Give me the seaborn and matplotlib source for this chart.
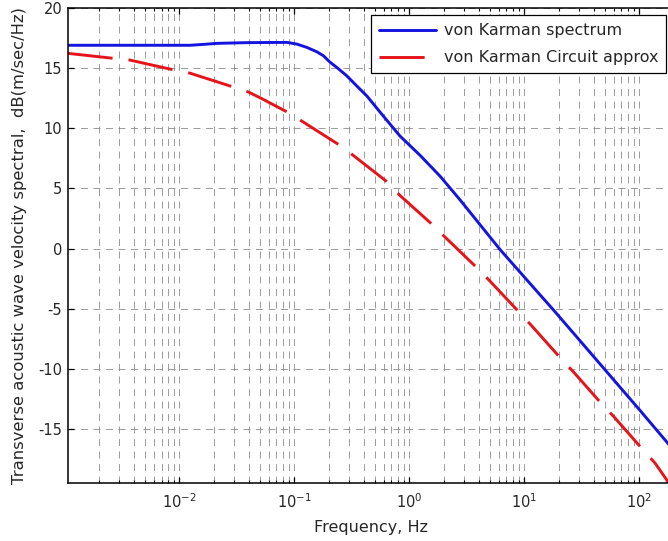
import matplotlib
matplotlib.use("Agg")
import numpy as np
import pandas as pd
import seaborn as sns
import matplotlib.pyplot as plt
from matplotlib.ticker import LogLocator, NullFormatter, LogFormatterSciNotation

# von Karman spectrum (Hz, dB)
spectrum_freq = [1.07e-3, 0.0124, 0.0165, 0.0213, 0.0389, 0.0865, 0.105, 0.128, 0.157,
                 0.179, 0.204, 0.234, 0.286, 0.349, 0.427, 0.556, 0.830, 1.24, 1.85,
                 2.76, 6.17, 13.7, 17.9, 52.1, 101, 173, 190]
spectrum_db = [16.9, 16.9, 16.98, 17.06, 17.12, 17.14, 17.0, 16.73, 16.36,
               16.03, 15.5, 15.06, 14.36, 13.52, 12.69, 11.35, 9.35, 7.75, 6.02,
               4.05, -0.1, -3.85, -5.1, -10.25, -13.44, -16.08, -16.55]

# circuit approximation (Hz, dB)
approx_freq = [1.07e-3, 2.58e-3, 3.72e-3, 8.87e-3, 0.0124, 0.0286, 0.0398, 0.0537, 0.0615,
               0.0887, 0.116, 0.249, 0.326, 0.656, 0.83, 1.62, 2.04, 3.98, 4.97, 9.18,
               11.6, 21.1, 26.7, 48.1, 60.3, 110, 137, 175, 190]
approx_db = [16.23, 15.83, 15.67, 14.86, 14.58, 13.47, 13.02, 12.4, 12.1,
             11.3, 10.6, 8.58, 7.74, 5.47, 4.41, 1.91, 0.96, -1.71, -2.66, -5.37,
             -6.43, -9.21, -10.25, -13.02, -14.0, -16.84, -17.84, -19.3, -19.9]

series_labels = ["von Karman spectrum", "von Karman Circuit approx"]
y_ticks = [-15, -10, -5, 0, 5, 10, 15, 20]
x_limits = (1.07e-3, 200)
y_limits = (-19.5, 20)

sns.set_style("ticks")
plt.rcParams.update({
    "font.family": ["DejaVu Sans"],
    "axes.unicode_minus": False,
    "lines.scale_dashes": False,
    "xtick.direction": "in",
    "ytick.direction": "in",
    "xtick.top": True,
    "ytick.right": True,
    "axes.edgecolor": "black",
    "axes.linewidth": 1.1,
})

fig = plt.figure(figsize=(6.68, 5.41), dpi=100)
ax = fig.add_axes([67.7 / 668, (541 - 483) / 541, 606.2 / 668, 475 / 541])
ax.set_xscale("log")

sns.lineplot(x=spectrum_freq, y=spectrum_db, ax=ax, color="#1414e0", lw=2.1,
             label=series_labels[0], sort=False)
sns.lineplot(x=approx_freq, y=approx_db, ax=ax, color="#e6141a", lw=2.1,
             linestyle=(0, (32.5, 11.5)), label=series_labels[1], sort=False)

ax.set_xlim(*x_limits)
ax.set_ylim(*y_limits)
ax.set_yticks(y_ticks)
ax.xaxis.set_major_locator(LogLocator(base=10, numticks=20))
ax.xaxis.set_major_formatter(LogFormatterSciNotation())
ax.xaxis.set_minor_locator(LogLocator(base=10, subs=np.arange(2, 10), numticks=60))
ax.xaxis.set_minor_formatter(NullFormatter())

grid_style = dict(color="#8c8c8c", linestyle=(0, (5, 4)), linewidth=0.6)
ax.grid(True, which="major", axis="both", **grid_style)
ax.grid(True, which="minor", axis="x", **grid_style)
ax.set_axisbelow(True)

ax.tick_params(axis="both", which="major", length=4.5, width=0.9, labelsize=10.5, color="black")
ax.tick_params(axis="x", which="major", pad=7)
ax.tick_params(axis="y", which="major", pad=4)
ax.tick_params(axis="x", which="minor", length=2.5, width=0.8, color="black")

ax.set_xlabel("Frequency, Hz", fontsize=11.5, labelpad=6)
ax.set_ylabel("Transverse acoustic wave velocity spectral,  dB(m/sec/Hz)", fontsize=11.8, labelpad=8)

leg = ax.legend(loc="upper right", bbox_to_anchor=(0.987, 0.985), borderaxespad=0,
                fancybox=False, framealpha=1, edgecolor="black", fontsize=11.5,
                handlelength=3.6, handletextpad=0.45, labelspacing=0.75, borderpad=0.5)
leg.get_frame().set_linewidth(0.9)

fig.savefig("out.png", dpi=100)
